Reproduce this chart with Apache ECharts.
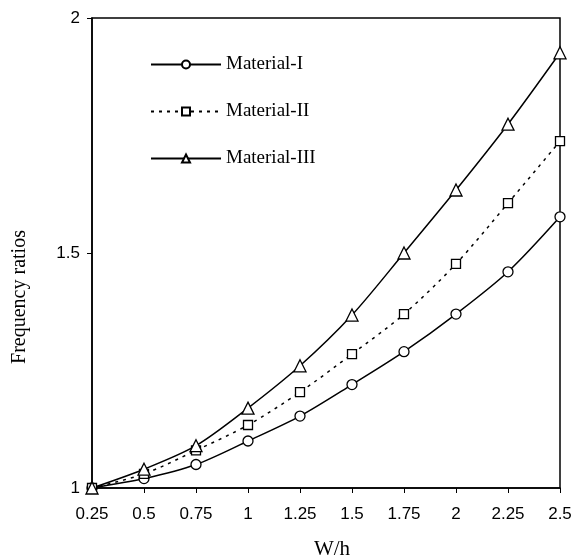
<!DOCTYPE html>
<html>
<head>
<meta charset="utf-8">
<script src="https://cdn.jsdelivr.net/npm/echarts@6/dist/echarts.min.js"></script>
<style>
  html, body { margin: 0; padding: 0; background: #fff; }
  #chart { width: 575px; height: 560px; }
</style>
</head>
<body>
<div id="chart"></div>
<script>
const ratios = [0.25, 0.5, 0.75, 1, 1.25, 1.5, 1.75, 2, 2.25, 2.5]
const materialI = [1.0, 1.02, 1.05, 1.10, 1.153, 1.22, 1.29, 1.37, 1.46, 1.577]
const materialII = [1.0, 1.03, 1.08, 1.134, 1.204, 1.285, 1.37, 1.477, 1.606, 1.738]
const materialIII = [1.0, 1.04, 1.09, 1.17, 1.26, 1.368, 1.50, 1.634, 1.774, 1.926]
const names = ['Material-I', 'Material-II', 'Material-III']

const pairs = (vals) => ratios.map((x, i) => [x, vals[i]])

const chart = echarts.init(document.getElementById('chart'))

const makeSeries = (name, vals, symbol, size, lineType) => ({
  name: name,
  type: 'line',
  smooth: 0.3,
  data: pairs(vals),
  symbol: symbol,
  symbolSize: size,
  showAllSymbol: true,
  lineStyle: { color: '#000', width: 1.5, type: lineType },
  itemStyle: { color: '#fff', borderColor: '#000', borderWidth: 1.3 },
  emphasis: { disabled: true }
})

chart.setOption({
  animation: false,
  backgroundColor: '#fff',
  grid: {
    left: 92, right: 15, top: 18, bottom: 72,
    outerBoundsMode: 'none',
    show: true, borderColor: '#000', borderWidth: 1.5
  },
  legend: {
    orient: 'vertical',
    left: 145,
    top: 50,
    itemWidth: 70,
    itemHeight: 10,
    itemGap: 28,
    data: names,
    textStyle: { fontFamily: 'Liberation Serif', fontSize: 19, color: '#000' }
  },
  xAxis: {
    type: 'value',
    min: 0.25,
    max: 2.5,
    interval: 0.25,
    name: 'W/h',
    nameLocation: 'middle',
    nameGap: 51,
    nameTextStyle: { fontFamily: 'Liberation Serif', fontSize: 21, color: '#000', padding: [0, 0, 0, 12] },
    axisLine: { lineStyle: { color: '#000', width: 1.5 } },
    axisTick: { show: true, length: 5, lineStyle: { color: '#000' } },
    axisLabel: { fontFamily: 'Liberation Sans', fontSize: 17, color: '#000', margin: 18 },
    splitLine: { show: false }
  },
  yAxis: {
    type: 'value',
    min: 1,
    max: 2,
    interval: 0.5,
    name: 'Frequency ratios',
    nameLocation: 'middle',
    nameGap: 62,
    nameTextStyle: { fontFamily: 'Liberation Serif', fontSize: 20, color: '#000', padding: [0, 88, 0, 0] },
    axisLine: { show: true, lineStyle: { color: '#000', width: 1.5 } },
    axisTick: { show: true, length: 5, lineStyle: { color: '#000' } },
    axisLabel: { fontFamily: 'Liberation Sans', fontSize: 17, color: '#000', margin: 12 },
    splitLine: { show: false }
  },
  series: [
    makeSeries(names[0], materialI, 'circle', 10, 'solid'),
    makeSeries(names[1], materialII, 'rect', 9, [3, 5]),
    makeSeries(names[2], materialIII, 'triangle', 12, 'solid')
  ]
})
</script>
</body>
</html>
